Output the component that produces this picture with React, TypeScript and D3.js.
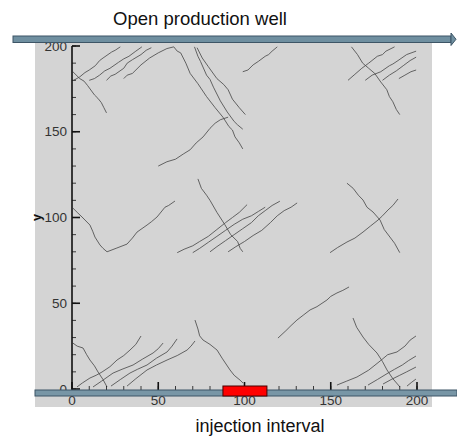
import React from "react";
import * as d3 from "d3";

// fracture traces, in model units (x, y from 0 to 200)
const fracturesTop: [number, number][][] = [
  [[0.5, 185], [4.5, 181], [7, 179.5], [9, 177], [13, 171.5], [15, 169.5], [17, 167], [18.5, 164], [20, 161]],
  [[1, 180], [4.5, 182], [7.5, 184.5], [10, 186], [13.5, 188.5], [16, 191.5], [18, 193], [23, 196.5], [25, 197.5], [28, 199.5]],
  [[10, 180], [13, 181], [16, 183], [19, 185.5], [22, 187], [27, 190.5], [30, 192.5], [33, 194], [37, 197], [40.5, 199.5]],
  [[20, 180], [22.5, 182.5], [25, 183.5], [30, 187], [32, 190], [35, 192], [40, 195], [43, 197.5], [46, 199]],
  [[30, 181], [32, 183], [35, 184], [40, 189], [45, 193], [50, 196], [55, 198.5], [59, 199.5], [61, 197], [63, 196], [66, 190], [68.5, 184], [73, 178], [75, 175], [78, 170.5], [83, 164], [87.5, 158.5], [91, 153], [93, 151], [94.5, 147], [97, 143.5], [99, 140]],
  [[71, 199.5], [73, 194], [74.5, 191], [78, 183], [80, 180.5], [82, 176], [86, 168], [90, 161.5], [94, 156], [96, 154], [99, 151.5]],
  [[72.5, 199], [75.5, 193], [79, 188], [84, 181], [88, 177.5], [90.5, 174.5], [93, 169], [97, 164], [100.5, 160]],
  [[50, 130], [55, 132.5], [60, 134], [64.5, 137], [68.5, 139.5], [72, 143.5], [76, 147], [80, 152], [83, 155], [86, 157], [90.5, 158.5]],
  [[99, 185], [102, 186], [105, 189], [108, 191], [112, 194], [114, 195], [116, 197], [119, 199.5]],
  [[162, 199.5], [165.5, 195], [168.5, 190], [172, 187], [175.5, 184], [179, 179], [182.5, 174.5], [184, 170.5], [186, 167.5], [188, 163], [190, 160]],
  [[160, 180], [164, 183.5], [168, 187], [172, 190], [177, 194], [180, 195], [182, 197], [187, 199.5]],
  [[170, 180], [174, 183], [179, 185], [184, 188.5], [186, 189.5], [189, 191.5], [194, 195], [199.5, 197]],
  [[180, 180], [184, 183], [188, 185.5], [192, 188.5], [196, 191.5], [199.5, 193.5]],
  [[189.5, 181], [193, 183], [196.5, 185], [199.5, 186]],
];

const fracturesMiddle: [number, number][][] = [
  [[0.5, 105.5], [3, 103], [5.8, 100.3], [10.4, 95.6], [12, 92], [13.3, 88.6], [16.2, 84], [18, 82], [20.3, 80], [26, 82.2], [31.9, 84.5], [35, 88], [37.7, 91.5], [43.5, 95.6], [46, 97.5], [49.3, 100.3], [53.9, 106], [56, 107], [59.7, 109.6]],
  [[73, 122.5], [75, 117], [78, 113], [80, 110], [84, 103], [88.5, 96], [92, 90], [96, 86], [97.5, 82], [99, 80]],
  [[61, 79.5], [65, 81.5], [70, 83.5], [74, 86], [79, 89], [84, 93], [89, 97], [93, 100], [97, 103], [101.5, 107.5]],
  [[70, 79.5], [74, 82], [79, 85.5], [84, 89], [89, 92.5], [94, 96], [99, 99], [104, 101], [108, 103.5], [112, 106]],
  [[80, 80], [84, 83], [89, 86.5], [94, 90], [99, 93.5], [104, 97], [108, 101], [112, 104], [116, 107], [120.5, 109.5]],
  [[90.5, 80], [95, 83], [100, 86], [105, 89.5], [110, 92.5], [115, 97], [119, 101], [123, 104], [127, 106], [130.5, 108.5]],
  [[159.4, 120], [163, 117], [166, 113], [168.7, 110.2], [171, 106], [174.5, 103.2], [178.6, 98.5], [181, 93], [184.3, 88.6], [187, 85], [190, 79.5]],
  [[149.6, 79.5], [154, 82.5], [159.4, 85.7], [164, 88], [168.7, 91.5], [173, 95], [177.4, 98.5], [180, 101], [183.2, 104.4], [186, 107], [189, 110.8]],
];

const fracturesBottom: [number, number][][] = [
  [[119.4, 29.7], [124, 34], [127, 37], [130.4, 40.2], [134, 43], [138, 46.1], [142, 48], [147.8, 51.9], [150, 54], [153.6, 56], [157, 57.5], [160.6, 59.5]],
  [[0.5, 26.8], [3, 25], [6.4, 23.9], [8.5, 20], [10.4, 16.9], [13, 13.5], [15.1, 9.9], [18, 5.5], [20.3, 1.2]],
  [[2.9, 1.2], [6, 3.5], [10.4, 6.4], [14, 8], [17.4, 9.9], [22, 13], [26.1, 16.9], [30, 19.5], [33.6, 22.7], [37, 26], [40, 30.9]],
  [[12.2, 1.2], [17, 4.5], [23.8, 9.3], [29, 11.5], [35.4, 14], [41, 17.5], [47, 21], [50, 23.5], [52.8, 26.8]],
  [[22.6, 1.7], [28, 5.5], [33.6, 9.3], [38, 11.5], [43.5, 14], [49, 18], [55.1, 21.6], [58, 25], [60.9, 29.2]],
  [[31.9, 1.7], [37, 6], [43.5, 11.1], [49, 14], [55.1, 16.9], [61, 19.5], [66.7, 22.7], [69, 25], [71.3, 28]],
  [[71.3, 40.2], [73, 35], [74, 31], [75.9, 28.6], [80, 26], [84.1, 22.7], [87, 18], [91.6, 11.1], [94, 8], [97.4, 5.2], [99.1, 3.5]],
  [[162.9, 41.4], [165, 36], [168.7, 30.3], [172, 26], [176.8, 21], [180, 16], [182.6, 11.1], [186, 6], [190.1, 1.2]],
  [[153.6, 2.3], [159, 4.5], [165.2, 7], [172, 11], [178.6, 16.3], [183, 20], [188.4, 21.6], [193, 25], [196, 28.5], [199.4, 30.9]],
  [[171.6, 2.3], [177, 5.5], [183.2, 9.3], [187, 11.5], [191.5, 14], [195, 16.5], [199.4, 19.2]],
  [[180.3, 2.9], [185, 5.5], [190, 8], [194, 10], [199.4, 12.8]],
  [[194.2, 1.7], [197, 4], [199.4, 5.8]],
];

const xTicks = [0, 50, 100, 150, 200];
const yTicks = [0, 50, 100, 150, 200];
const minorTicks = d3.range(0, 201, 10);
const injectionInterval = [87.5, 113];

const W = 457, H = 439;
const FONT = "'Liberation Sans', Arial, Helvetica, sans-serif";

export default function App() {
  const x = d3.scaleLinear().domain([0, 200]).range([72, 417]);
  const y = d3.scaleLinear().domain([0, 200]).range([389, 46]);
  const line = d3.line<[number, number]>().x(d => x(d[0])).y(d => y(d[1]));
  const all = [...fracturesTop, ...fracturesMiddle, ...fracturesBottom];

  const axisY = 390;
  const pipeTop = 36, pipeH = 6.5;

  return (
    <svg width={W} height={H} style={{ position: "absolute", left: 0, top: 0 }}>
      <rect x={0} y={0} width={W} height={H} fill="#fff" />
      <rect x={35} y={40} width={397} height={367} fill="#d4d4d4" />

      {/* fractures */}
      <g fill="none" stroke="#4d4d4d" strokeWidth={0.85} strokeLinejoin="round">
        {all.map((f, i) => <path key={i} d={line(f) || ""} />)}
      </g>

      {/* axes */}
      <g stroke="#111">
        <line x1={x(0)} x2={x(0)} y1={y(0)} y2={y(200)} strokeWidth={1.6} />
        {minorTicks.map(v => (
          <line key={"ym" + v} x1={x(0)} x2={x(0) + 4} y1={y(v)} y2={y(v)} strokeWidth={0.8} />
        ))}
        {yTicks.map(v => (
          <line key={"yM" + v} x1={x(0)} x2={x(0) + 8} y1={y(v)} y2={y(v)} strokeWidth={1.6} />
        ))}
        {minorTicks.map(v => (
          <line key={"xm" + v} x1={x(v)} x2={x(v)} y1={axisY} y2={axisY - 4} strokeWidth={0.8} />
        ))}
        {xTicks.map(v => (
          <line key={"xM" + v} x1={x(v)} x2={x(v)} y1={axisY} y2={axisY - 8} strokeWidth={1.6} />
        ))}
      </g>
      <g fontFamily={FONT} fontSize={13.5} fill="#333">
        {yTicks.map(v => (
          <text key={"yl" + v} x={67} y={y(v)} dy="0.35em" textAnchor="end">{v}</text>
        ))}
        {xTicks.map(v => (
          <text key={"xl" + v} x={x(v)} y={405} textAnchor="middle">{v}</text>
        ))}
      </g>
      <text x={0} y={0} transform={`translate(41,${y(100)}) rotate(-90)`} textAnchor="middle"
        fontFamily={FONT} fontSize={12.5} fontWeight="bold" fill="#111">y</text>

      {/* production well */}
      <rect x={13} y={pipeTop} width={438} height={pipeH} fill="#6f8fa0" stroke="#3d5566" strokeWidth={1} />
      <path d={`M451,${pipeTop - 3} L456,${pipeTop + pipeH / 2} L451,${pipeTop + pipeH + 3} Z`} fill="#6f8fa0" stroke="#3d5566" strokeWidth={1} />
      <text x={200} y={25} textAnchor="middle" fontFamily={FONT} fontSize={18.5} fill="#111">Open production well</text>

      {/* bottom well + injection interval */}
      <rect x={35} y={axisY} width={422} height={6} fill="#7896a6" stroke="#3d5566" strokeWidth={1} />
      <rect x={x(injectionInterval[0])} y={386} width={x(injectionInterval[1]) - x(injectionInterval[0])} height={10}
        fill="#ff0000" stroke="#4a0000" strokeWidth={1} />
      <text x={260} y={432} textAnchor="middle" fontFamily={FONT} fontSize={18} fill="#111">injection interval</text>
    </svg>
  );
}
